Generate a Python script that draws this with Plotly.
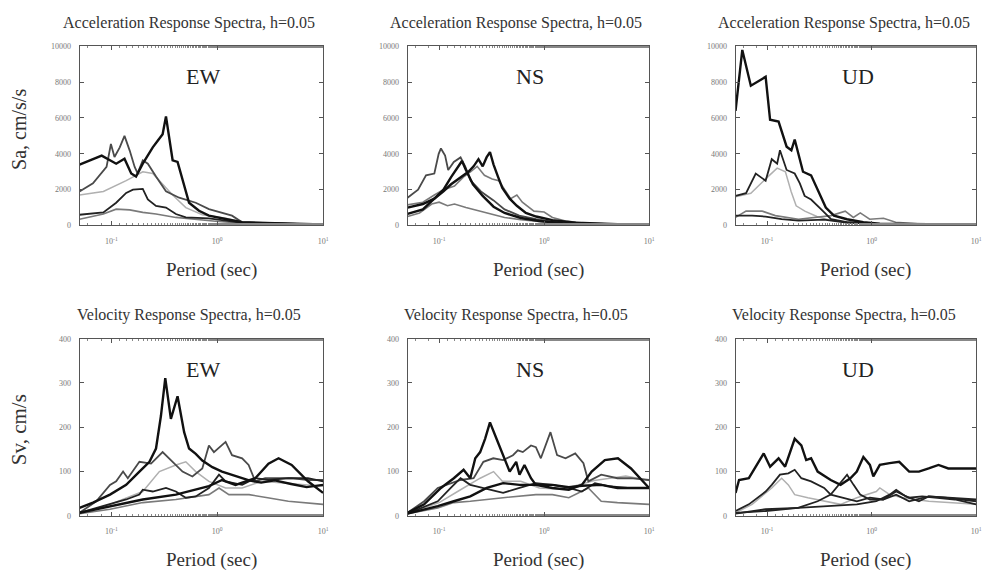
import math
import plotly.graph_objects as go

# ---------------- data (period [s], value) ----------------
# Acceleration response spectra, cm/s/s
acc_ew_1 = [(0.05, 3400), (0.081, 3900), (0.111, 3450), (0.133, 3730), (0.154, 2900), (0.171, 2730),
            (0.198, 3450), (0.246, 4360), (0.274, 4730), (0.305, 5090), (0.328, 6090), (0.379, 3640),
            (0.422, 3550), (0.47, 2550), (0.542, 1270), (0.673, 820), (0.835, 550), (1.2, 360),
            (1.72, 180), (3.5, 130), (10, 60)]
acc_ew_2 = [(0.05, 1900), (0.067, 2360), (0.09, 3270), (0.099, 4550), (0.107, 3820), (0.12, 4360),
            (0.133, 5000), (0.149, 4180), (0.166, 3270), (0.177, 2910), (0.198, 3640), (0.221, 3450),
            (0.264, 2730), (0.328, 1910), (0.437, 1550), (0.627, 1270), (0.835, 910), (1.11, 730),
            (1.38, 550), (1.72, 180), (10, 50)]
acc_ew_3 = [(0.05, 1700), (0.084, 1900), (0.138, 2500), (0.198, 3000), (0.246, 2900), (0.305, 2300),
            (0.379, 1700), (0.505, 1000), (0.723, 600), (1.2, 400), (1.72, 200), (10, 50)]
acc_ew_4 = [(0.05, 600), (0.084, 730), (0.111, 1270), (0.138, 1820), (0.16, 2000), (0.198, 2040),
            (0.221, 1450), (0.264, 1090), (0.328, 1000), (0.407, 640), (0.505, 450), (0.835, 400),
            (1.2, 270), (1.72, 150), (10, 40)]
acc_ew_5 = [(0.05, 350), (0.084, 640), (0.111, 910), (0.149, 870), (0.198, 730), (0.264, 640),
            (0.407, 450), (0.583, 360), (0.964, 240), (1.72, 130), (10, 40)]

acc_ns_1 = [(0.05, 1550), (0.063, 2000), (0.075, 2800), (0.09, 2900), (0.099, 4000), (0.104, 4300),
            (0.114, 3900), (0.122, 3100), (0.138, 3550), (0.16, 3800), (0.177, 3300), (0.2, 2500),
            (0.25, 1900), (0.33, 1400), (0.42, 900), (0.58, 550), (0.84, 350), (1.2, 220), (2, 110), (10, 40)]
acc_ns_2 = [(0.05, 650), (0.07, 900), (0.09, 1500), (0.11, 2000), (0.13, 2700), (0.15, 3200),
            (0.165, 3600), (0.18, 3100), (0.21, 2300), (0.26, 1650), (0.33, 1050), (0.42, 700),
            (0.6, 420), (0.9, 250), (1.5, 130), (3, 70), (10, 30)]
acc_ns_3 = [(0.05, 1000), (0.07, 1200), (0.09, 1500), (0.11, 1900), (0.13, 2300), (0.16, 2700),
            (0.19, 3000), (0.213, 3300), (0.237, 3700), (0.26, 3300), (0.283, 3800), (0.305, 4100),
            (0.33, 3400), (0.365, 2700), (0.4, 2100), (0.47, 1500), (0.55, 1100), (0.67, 700),
            (0.84, 500), (1.2, 300), (2, 150), (5, 70), (10, 40)]
acc_ns_4 = [(0.05, 500), (0.065, 700), (0.085, 1200), (0.1, 1300), (0.12, 1100), (0.14, 1200),
            (0.18, 1000), (0.23, 850), (0.3, 650), (0.42, 450), (0.6, 320), (1, 200), (2, 100), (10, 40)]
acc_ns_5 = [(0.05, 1150), (0.07, 1300), (0.09, 1700), (0.11, 2000), (0.14, 2200), (0.17, 2700),
            (0.2, 3000), (0.23, 3300), (0.27, 2800), (0.32, 2600), (0.37, 2500), (0.42, 2000),
            (0.48, 1500), (0.55, 1700), (0.62, 1300), (0.8, 800), (1.0, 750), (1.2, 450), (1.6, 250),
            (2.5, 120), (10, 40)]

acc_ud_1 = [(0.05, 6400), (0.058, 9800), (0.07, 7800), (0.097, 8300), (0.107, 5900), (0.129, 5800),
            (0.154, 4400), (0.171, 4200), (0.184, 4800), (0.221, 3000), (0.264, 2800), (0.305, 2000),
            (0.365, 1000), (0.437, 550), (0.583, 350), (0.835, 180), (1.2, 100), (10, 40)]
acc_ud_2 = [(0.05, 1650), (0.063, 1800), (0.078, 2900), (0.097, 2500), (0.111, 3700), (0.125, 3450),
            (0.133, 4200), (0.154, 3100), (0.184, 2900), (0.206, 2350), (0.229, 1650), (0.264, 1450),
            (0.33, 900), (0.41, 350), (0.58, 180), (1.2, 80), (10, 30)]
acc_ud_3 = [(0.05, 1600), (0.07, 1800), (0.097, 2600), (0.125, 3200), (0.15, 3000), (0.17, 1900),
            (0.19, 1100), (0.23, 800), (0.3, 500), (0.4, 300), (0.6, 150), (1, 80), (10, 30)]
acc_ud_4 = [(0.05, 450), (0.063, 800), (0.09, 800), (0.12, 550), (0.2, 350), (0.41, 550), (0.56, 800),
            (0.67, 450), (0.78, 700), (0.96, 350), (1.3, 400), (1.7, 180), (3, 80), (10, 40)]
acc_ud_5 = [(0.05, 550), (0.072, 550), (0.097, 500), (0.138, 360), (0.2, 270), (0.35, 330),
            (0.55, 180), (1, 100), (3, 50), (10, 30)]

# Velocity response spectra, cm/s
vel_ew_1 = [(0.05, 18), (0.067, 30), (0.097, 48), (0.138, 70), (0.184, 100), (0.229, 122), (0.264, 152),
            (0.294, 226), (0.323, 311), (0.365, 219), (0.422, 270), (0.487, 189), (0.542, 152),
            (0.627, 140), (0.723, 125), (0.9, 110), (1.11, 100), (1.49, 90), (2.0, 80), (2.6, 75),
            (3.5, 80), (5, 72), (7, 65), (10, 70)]
vel_ew_2 = [(0.05, 7), (0.072, 33), (0.097, 70), (0.111, 78), (0.129, 100), (0.143, 85), (0.184, 122),
            (0.237, 118), (0.305, 144), (0.379, 122), (0.47, 100), (0.583, 89), (0.723, 107),
            (0.835, 159), (0.931, 144), (1.2, 167), (1.38, 137), (1.72, 130), (1.98, 115), (2.29, 78),
            (2.84, 85), (3.5, 85), (5, 85), (7.2, 81), (10, 81)]
vel_ew_3 = [(0.05, 7), (0.072, 18), (0.097, 26), (0.138, 37), (0.184, 48), (0.198, 59), (0.246, 55),
            (0.328, 63), (0.407, 55), (0.505, 41), (0.627, 44), (0.835, 63), (1.04, 93), (1.2, 78),
            (1.72, 70), (2.29, 85), (3.05, 81), (4.7, 85), (7.2, 85), (10, 78)]
vel_ew_4 = [(0.05, 7), (0.097, 22), (0.198, 37), (0.407, 48), (0.835, 67), (1.11, 81), (1.49, 70),
            (2.29, 85), (3.05, 118), (3.8, 130), (5.05, 115), (7.2, 78), (10, 52)]
vel_ew_5 = [(0.05, 5), (0.097, 26), (0.198, 55), (0.284, 100), (0.407, 115), (0.505, 122), (0.627, 100),
            (0.835, 78), (1.2, 63), (1.72, 63), (2.64, 78), (4.07, 74), (6.3, 70), (10, 67)]
vel_ew_6 = [(0.05, 5), (0.097, 15), (0.198, 30), (0.407, 37), (0.835, 48), (1.04, 63), (1.29, 48),
            (2, 48), (3, 41), (4.7, 33), (10, 26)]

vel_ns_1 = [(0.05, 7), (0.072, 26), (0.104, 63), (0.138, 85), (0.171, 104), (0.198, 85), (0.221, 130),
            (0.246, 144), (0.274, 174), (0.305, 211), (0.352, 174), (0.407, 137), (0.47, 100),
            (0.542, 122), (0.583, 93), (0.65, 115), (0.75, 85), (0.835, 70), (1.2, 70), (1.72, 65),
            (2.3, 68), (3.5, 70), (5, 63), (10, 63)]
vel_ns_2 = [(0.05, 7), (0.072, 33), (0.097, 63), (0.12, 70), (0.16, 81), (0.213, 85), (0.264, 122),
            (0.328, 130), (0.407, 126), (0.505, 137), (0.562, 148), (0.627, 144), (0.75, 159),
            (0.835, 155), (0.931, 130), (1.15, 189), (1.33, 137), (1.6, 130), (1.98, 141), (2.37, 119),
            (2.64, 78), (3.5, 93), (5, 85), (6.7, 85), (10, 81)]
vel_ns_3 = [(0.05, 5), (0.097, 22), (0.138, 33), (0.198, 44), (0.284, 63), (0.407, 74), (0.583, 70),
            (0.835, 70), (1.2, 63), (1.72, 59), (2.29, 70), (2.84, 100), (3.79, 126), (5.05, 130),
            (6.73, 107), (10, 63)]
vel_ns_4 = [(0.05, 5), (0.067, 18), (0.097, 33), (0.129, 63), (0.16, 85), (0.198, 70), (0.305, 59),
            (0.407, 52), (0.583, 63), (0.835, 74), (1.2, 70), (1.72, 63), (2.29, 55), (3.05, 74),
            (4.07, 67), (6.26, 63), (10, 63)]
vel_ns_5 = [(0.05, 5), (0.097, 18), (0.138, 30), (0.198, 33), (0.407, 41), (0.835, 48), (1.2, 48),
            (1.72, 41), (2.64, 63), (3.5, 33), (5, 30), (10, 26)]
vel_ns_6 = [(0.05, 5), (0.1, 30), (0.15, 55), (0.246, 85), (0.33, 100), (0.4, 78), (0.6, 78), (0.9, 63),
            (1.5, 60), (3, 80), (6, 90), (10, 80)]

vel_ud_1 = [(0.05, 52), (0.054, 81), (0.067, 85), (0.093, 141), (0.107, 111), (0.129, 130), (0.149, 111),
            (0.184, 174), (0.213, 159), (0.237, 126), (0.264, 130), (0.305, 100), (0.407, 81),
            (0.505, 70), (0.627, 85), (0.723, 100), (0.835, 133), (0.964, 115), (1.04, 89), (1.2, 115),
            (1.49, 119), (1.84, 122), (2.29, 100), (2.84, 100), (3.52, 107), (4.37, 115), (5.42, 107),
            (7.23, 107), (10, 107)]
vel_ud_2 = [(0.05, 11), (0.067, 26), (0.097, 55), (0.111, 70), (0.133, 93), (0.16, 96), (0.184, 104),
            (0.213, 85), (0.264, 78), (0.352, 63), (0.407, 48), (0.542, 41), (0.723, 33), (0.964, 41),
            (1.29, 37), (1.72, 55), (2.29, 41), (3.05, 44), (4.07, 41), (6.26, 37), (10, 26)]
vel_ud_3 = [(0.05, 7), (0.072, 26), (0.111, 63), (0.138, 85), (0.16, 70), (0.184, 48), (0.246, 41),
            (0.352, 33), (0.505, 26), (0.723, 41), (1.11, 55), (1.2, 63), (1.49, 48), (1.98, 41),
            (3.52, 33), (10, 26)]
vel_ud_4 = [(0.05, 7), (0.097, 11), (0.198, 18), (0.305, 33), (0.407, 48), (0.505, 74), (0.583, 93),
            (0.673, 70), (0.778, 48), (0.964, 37), (1.29, 37), (1.72, 48), (2.29, 33), (3.52, 44),
            (5.42, 41), (10, 37)]
vel_ud_5 = [(0.05, 5), (0.097, 15), (0.198, 18), (0.407, 22), (0.723, 26), (1.11, 33), (1.49, 48),
            (1.72, 59), (2.13, 44), (2.84, 33), (3.52, 44), (5.05, 41), (10, 33)]

components = ["EW", "NS", "UD"]
acc_title = "Acceleration Response Spectra, h=0.05"
vel_title = "Velocity Response Spectra, h=0.05"
acc_ylabel = "Sa, cm/s/s"
vel_ylabel = "Sv, cm/s"
x_label = "Period (sec)"
acc_ticks = [0, 2000, 4000, 6000, 8000, 10000]
vel_ticks = [0, 100, 200, 300, 400]
period_ticks = [0.1, 1, 10]
period_ticktext = ["10<sup>-1</sup>", "10<sup>0</sup>", "10<sup>1</sup>"]

# ---------------- styling ----------------
black_thick = dict(color="#111111", width=2.4)
black_mid = dict(color="#222222", width=1.8)
dark_grey = dict(color="#4a4a4a", width=1.8)
grey = dict(color="#7a7a7a", width=1.6)
light_grey = dict(color="#b0b0b0", width=1.5)

panels = [
    ("x", "y", [(acc_ew_3, light_grey), (acc_ew_5, grey), (acc_ew_2, dark_grey), (acc_ew_4, black_mid), (acc_ew_1, black_thick)]),
    ("x2", "y2", [(acc_ns_5, grey), (acc_ns_4, grey), (acc_ns_1, dark_grey), (acc_ns_2, black_thick), (acc_ns_3, black_thick)]),
    ("x3", "y3", [(acc_ud_3, light_grey), (acc_ud_4, grey), (acc_ud_5, black_mid), (acc_ud_2, black_mid), (acc_ud_1, black_thick)]),
    ("x4", "y4", [(vel_ew_5, light_grey), (vel_ew_6, grey), (vel_ew_2, dark_grey), (vel_ew_3, black_mid), (vel_ew_4, black_thick), (vel_ew_1, black_thick)]),
    ("x5", "y5", [(vel_ns_6, light_grey), (vel_ns_5, grey), (vel_ns_2, dark_grey), (vel_ns_4, black_mid), (vel_ns_3, black_thick), (vel_ns_1, black_thick)]),
    ("x6", "y6", [(vel_ud_3, light_grey), (vel_ud_5, black_mid), (vel_ud_4, black_mid), (vel_ud_2, black_mid), (vel_ud_1, black_thick)]),
]

fig = go.Figure()
for xa, ya, series in panels:
    for pts, style in series:
        fig.add_trace(go.Scatter(
            x=[p[0] for p in pts], y=[p[1] for p in pts],
            mode="lines", line=dict(color=style["color"], width=style["width"]),
            xaxis=xa, yaxis=ya, showlegend=False, hoverinfo="skip"))

W, H = 997, 576
col_px = [(80, 325), (410, 653), (740, 982)]
row_px = [(43, 225), (340, 520)]

serif = "Liberation Serif, Times New Roman, serif"
axis_col = "#555555"
tick_font = dict(family=serif, size=8, color="#777777")

layout = dict(
    width=W, height=H, margin=dict(l=0, r=0, t=0, b=0),
    paper_bgcolor="white", plot_bgcolor="white", showlegend=False,
)
annotations = []
for r in range(2):
    for c in range(3):
        i = r * 3 + c + 1
        sfx = "" if i == 1 else str(i)
        x0, x1 = col_px[c]
        y0, y1 = row_px[r]
        layout["xaxis" + sfx] = dict(
            type="log", range=[math.log10(0.05), 1], domain=[x0 / W, x1 / W],
            anchor="y" + sfx, tickvals=period_ticks, ticktext=period_ticktext,
            ticks="inside", ticklen=4, tickcolor=axis_col, mirror="ticks",
            showline=True, linecolor=axis_col, linewidth=1, showgrid=False, zeroline=False,
            tickfont=tick_font, ticklabelstandoff=8,
            minor=dict(ticks="inside", ticklen=2, tickcolor="#888888", showgrid=False),
        )
        ticks = acc_ticks if r == 0 else vel_ticks
        layout["yaxis" + sfx] = dict(
            range=[ticks[0], ticks[-1]], domain=[1 - y1 / H, 1 - y0 / H],
            anchor="x" + sfx, tickvals=ticks, ticktext=[str(t) for t in ticks],
            ticks="inside", ticklen=4, tickcolor=axis_col,
            mirror="ticks", showline=True, linecolor=axis_col, linewidth=1,
            showgrid=False, zeroline=False, tickfont=tick_font, ticklabelstandoff=6,
        )
        cx = (x0 + x1) / 2 / W
        # panel title
        annotations.append(dict(
            text=acc_title if r == 0 else vel_title, xref="paper", yref="paper",
            x=(x0 + x1) / 2 / W - 0.012, y=1 - (y0 - 24) / H, xanchor="center", yanchor="middle",
            showarrow=False, font=dict(family=serif, size=16, color="#333333")))
        # component label
        annotations.append(dict(
            text=components[c], xref="paper", yref="paper",
            x=cx + 0.002, y=1 - (y0 + 31) / H, xanchor="center", yanchor="middle",
            showarrow=False, font=dict(family=serif, size=22, color="#222222")))
        # x axis title
        annotations.append(dict(
            text=x_label, xref="paper", yref="paper",
            x=cx + 0.01, y=1 - (y1 + 45) / H, xanchor="center", yanchor="middle",
            showarrow=False, font=dict(family=serif, size=19, color="#333333")))

annotations.append(dict(
    text=acc_ylabel, xref="paper", yref="paper", x=19 / W, y=1 - 127 / H,
    xanchor="center", yanchor="middle", textangle=-90, showarrow=False,
    font=dict(family=serif, size=20, color="#333333")))
annotations.append(dict(
    text=vel_ylabel, xref="paper", yref="paper", x=19 / W, y=1 - 432 / H,
    xanchor="center", yanchor="middle", textangle=-90, showarrow=False,
    font=dict(family=serif, size=21, color="#333333")))

layout["annotations"] = annotations
fig.update_layout(**layout)
fig.write_html("out.html")
